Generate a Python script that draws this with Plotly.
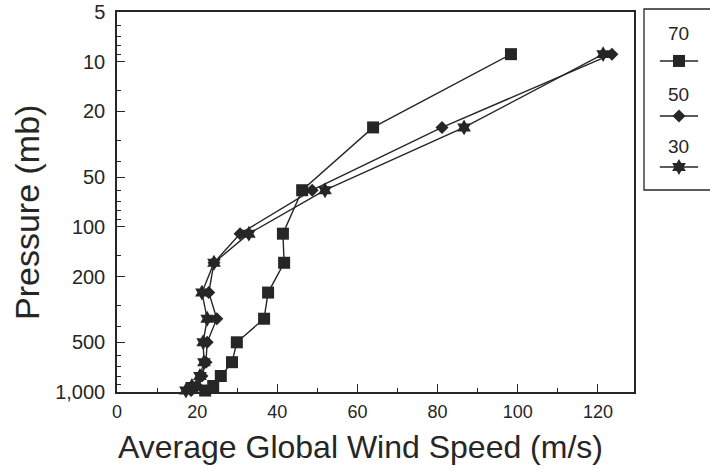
import plotly.graph_objects as go

# ---- data ----
pressure = [9, 25, 60, 110, 165, 250, 360, 500, 660, 800, 920, 980]
speed_70 = [98.3, 63.9, 46.2, 41.4, 41.7, 37.7, 36.7, 29.9, 28.7, 25.9, 24.0, 22.0]
speed_50 = [123.5, 81.1, 48.7, 30.7, 24.2, 22.9, 24.9, 22.5, 22.2, 21.2, 20.0, 18.5]
speed_30 = [121.3, 86.6, 51.9, 32.9, 24.2, 21.2, 22.5, 21.5, 21.7, 20.7, 18.7, 17.2]
series_names = ["70", "50", "30"]
x_ticks = [0, 20, 40, 60, 80, 100, 120]
y_ticks = [5, 10, 20, 50, 100, 200, 500, 1000]
y_ticklabels = ["5", "10", "20", "50", "100", "200", "500", "1,000"]
y_minor = [6, 7, 8, 9, 15, 30, 40, 60, 70, 80, 90, 150, 300, 400, 600, 700, 800, 900]
x_minor = [10, 30, 50, 70, 90, 110]

INK = "#262626"
FONT = "Arial, Liberation Sans, sans-serif"
W, H = 710, 475


def px(x):
    return x / W


def py(y):
    return (H - y) / H


styles = [
    dict(symbol="square", size=12),
    dict(symbol="diamond", size=10),
    dict(symbol="hexagram", size=12),
]
series = [speed_70, speed_50, speed_30]

fig = go.Figure()
for name, vals, st in zip(series_names, series, styles):
    fig.add_trace(go.Scatter(
        x=vals, y=pressure, mode="lines+markers", name=name,
        line=dict(color=INK, width=1.4),
        marker=dict(symbol=st["symbol"], size=st["size"], color=INK,
                    line=dict(width=0)),
        xaxis="x", yaxis="y", showlegend=False, cliponaxis=False,
    ))

# custom legend (text above the sample)
leg_text_y = [0.867, 0.525, 0.243]
leg_line_y = [0.713, 0.409, 0.127]
for name, st, ty, ly in zip(series_names, styles, leg_text_y, leg_line_y):
    fig.add_trace(go.Scatter(
        x=[0.24, 0.82], y=[ly, ly], mode="lines",
        line=dict(color=INK, width=1.4),
        xaxis="x2", yaxis="y2", showlegend=False, hoverinfo="skip",
    ))
    fig.add_trace(go.Scatter(
        x=[0.53], y=[ly], mode="markers",
        marker=dict(symbol=st["symbol"], size=st["size"], color=INK,
                    line=dict(width=0)),
        xaxis="x2", yaxis="y2", showlegend=False, hoverinfo="skip",
    ))
    fig.add_annotation(x=0.53, y=ty, xref="x2", yref="y2", text=name,
                       showarrow=False, yanchor="middle", xanchor="center",
                       font=dict(family=FONT, size=19, color=INK))

fig.update_layout(
    width=W, height=H,
    margin=dict(l=0, r=0, t=0, b=0),
    paper_bgcolor="white", plot_bgcolor="white",
    font=dict(family=FONT, color=INK),
    xaxis=dict(
        domain=[px(117), px(634)], range=[0, 129], tickvals=x_ticks,
        ticks="inside", ticklen=8, tickwidth=1, tickcolor=INK,
        minor=dict(tickvals=x_minor, ticks="inside", ticklen=4, tickcolor=INK),
        showline=True, linecolor=INK, linewidth=1.5, mirror=True,
        showgrid=False, zeroline=False, ticklabelstandoff=3,
        ticklabeloverflow="allow",
        tickfont=dict(family=FONT, size=18, color=INK),
        automargin=False,
    ),
    yaxis=dict(
        domain=[py(392), py(12)], type="log", range=[3, 0.69897],
        tickvals=y_ticks, ticktext=y_ticklabels,
        ticks="inside", ticklen=8, tickwidth=1, tickcolor=INK,
        minor=dict(tickvals=y_minor, ticks="inside", ticklen=4, tickcolor=INK),
        showline=True, linecolor=INK, linewidth=1.5, mirror=True,
        showgrid=False, zeroline=False, ticklabelstandoff=6,
        ticklabeloverflow="allow",
        tickfont=dict(family=FONT, size=20, color=INK),
        automargin=False,
    ),
    xaxis2=dict(domain=[px(644), 1.0], range=[0, (W - 644) / 66],
                visible=False, anchor="y2", fixedrange=True),
    yaxis2=dict(domain=[py(190), py(9)], range=[0, 1], visible=False,
                anchor="x2", fixedrange=True),
)

# legend frame
fig.add_shape(type="rect", xref="paper", yref="paper",
              x0=px(644), x1=1.02, y0=py(190), y1=py(9),
              line=dict(color=INK, width=1.3), fillcolor="rgba(0,0,0,0)")

# axis titles
fig.add_annotation(x=px(360), y=py(447), xref="paper", yref="paper",
                   xanchor="center", yanchor="middle",
                   text="Average Global Wind Speed (m/s)", showarrow=False,
                   font=dict(family=FONT, size=32, color=INK))
fig.add_annotation(x=px(27), y=py(213), xref="paper", yref="paper",
                   xanchor="center", yanchor="middle",
                   text="Pressure (mb)", textangle=-90, showarrow=False,
                   font=dict(family=FONT, size=34, color=INK))

fig.write_html(
    "out.html",
    config={"displayModeBar": False},
    post_script="document.body.style.margin='0';document.body.style.overflow='hidden';",
)
